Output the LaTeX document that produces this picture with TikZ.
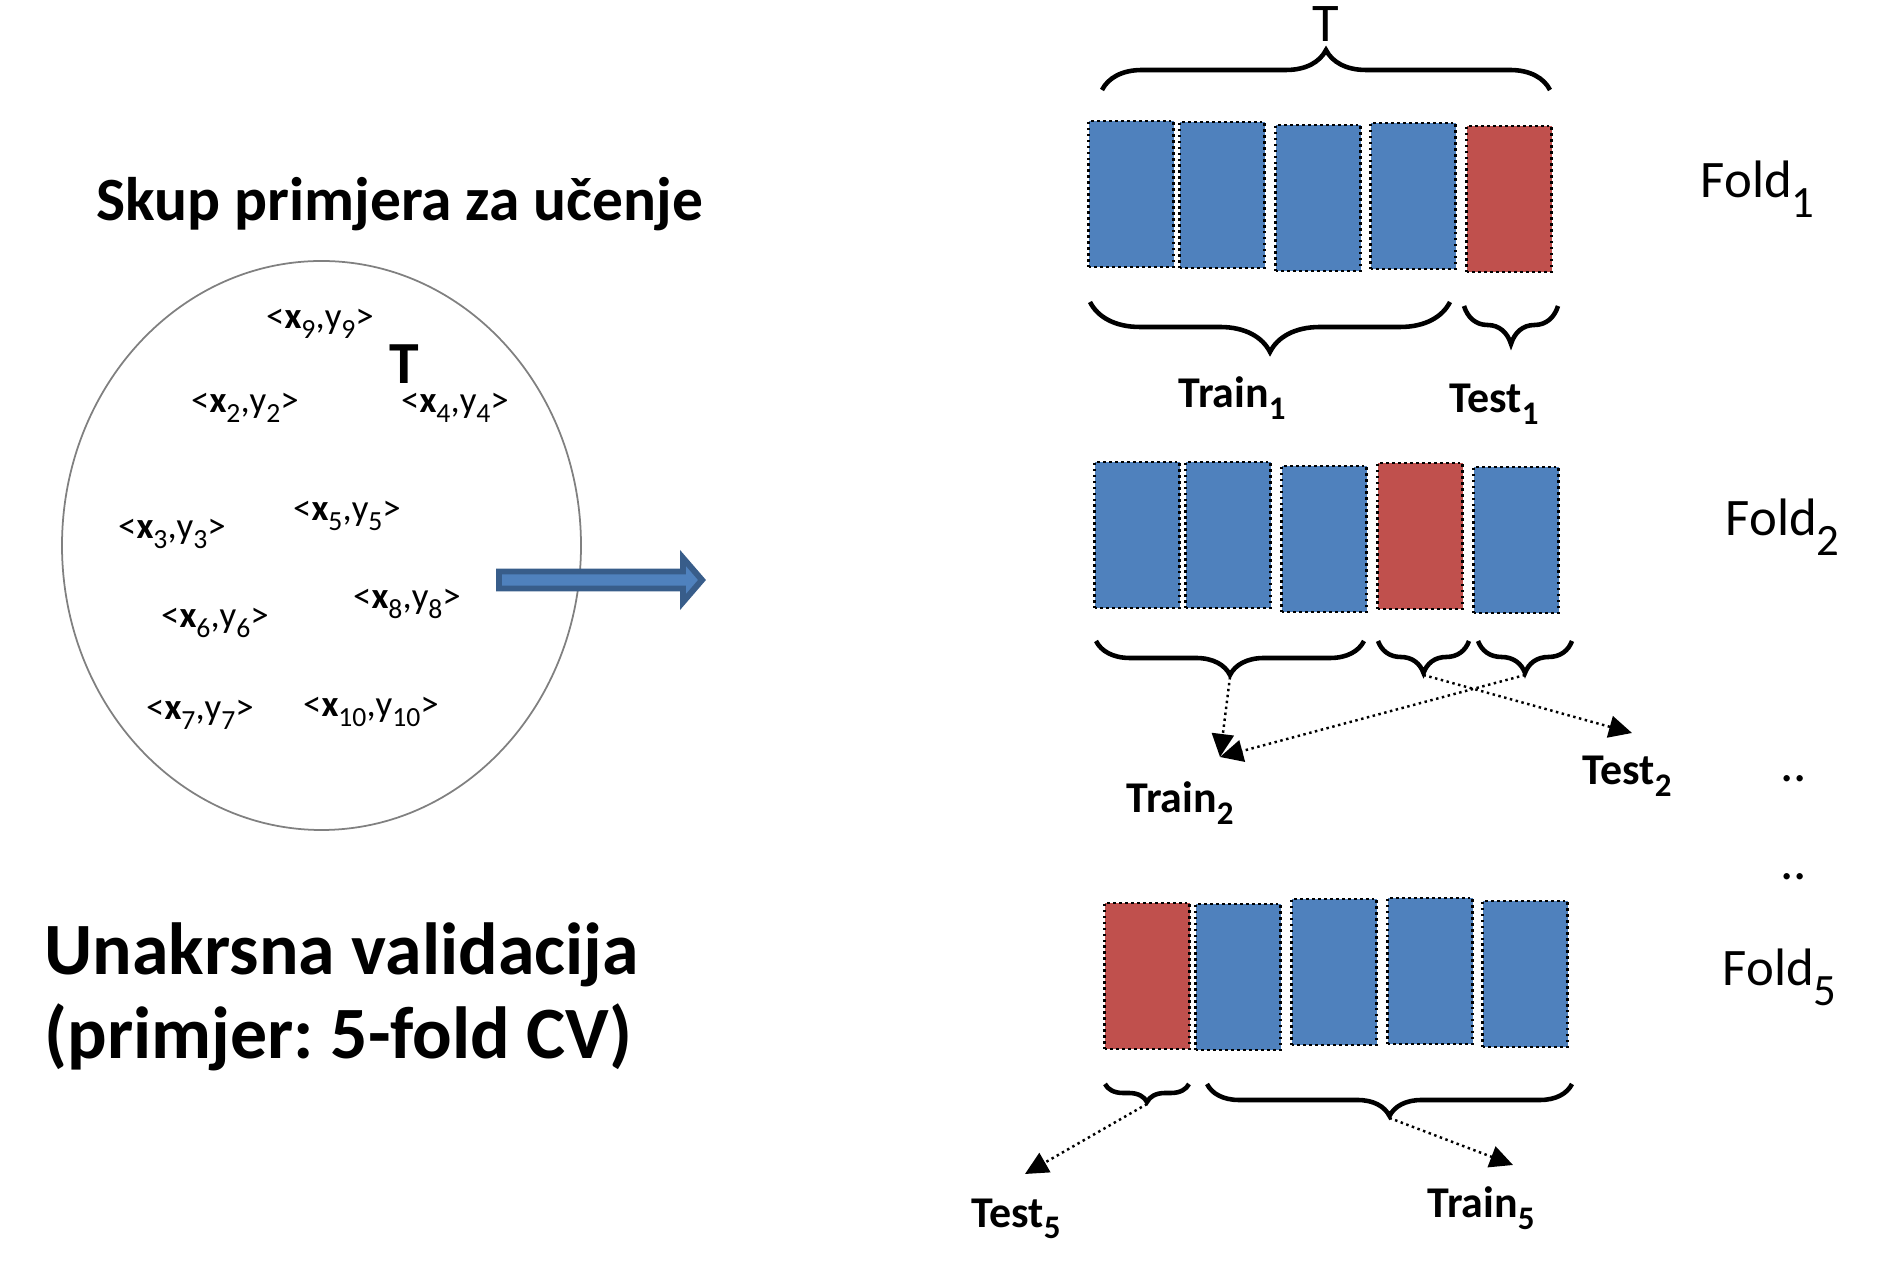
\documentclass[tikz,border=0pt]{standalone}
\usepackage{fontspec}
\setmainfont{Carlito}
\usetikzlibrary{arrows.meta,positioning,calc,decorations.pathreplacing}
\definecolor{blu}{HTML}{4F81BD}
\definecolor{rd}{HTML}{C0504D}
\definecolor{bludark}{HTML}{385D8A}
\frenchspacing
\newcommand{\sbs}[1]{\raisebox{-0.55ex}{\scalebox{0.75}{#1}}}
\newcommand{\sbsf}[1]{\raisebox{-0.8ex}{\scalebox{0.85}{#1}}}
\newcommand{\smp}[1]{<\textbf{x}\sbs{#1},y\sbs{#1}>}

\begin{document}
\begin{tikzpicture}[
  x=1mm,
  y=1mm,
  fbox/.style={draw, densely dotted, line width=0.7pt, minimum width=8.5mm, minimum height=14.6mm, inner sep=0pt},
  brc/.style={decorate, decoration={brace, amplitude=#1}, line width=1.3pt},
  ptr/.style={densely dotted, line width=0.7pt, -{Triangle[length=2.3mm, width=2.2mm]}},
  smp/.style={font=\fontsize{10.5}{12}\selectfont, inner sep=0pt},
  ttl/.style={font=\fontsize{17.5}{21}\selectfont\bfseries, inner sep=0pt},
  tbig/.style={font=\fontsize{21}{24}\selectfont\bfseries, align=left, inner sep=0pt},
  lbl/.style={font=\fontsize{12.5}{14}\selectfont\bfseries, inner sep=0pt},
  fld/.style={font=\fontsize{15}{18}\selectfont, inner sep=0pt},
]
\useasboundingbox (0,0) rectangle (187.9,-126.3);

% Left: training set
\node[ttl] (title) at (40.0,-20.4) {Skup primjera za učenje};
\draw[gray, line width=0.5pt] (32.15,-54.55) ellipse [x radius=25.95mm, y radius=28.45mm];
\node[font=\fontsize{17}{20}\selectfont\bfseries, inner sep=0pt] (tset) at (40.4,-36.4) {T};

\node[smp] (s9) at (32.0,-32.4) {\smp{9}};
\node[smp] (s2) at (24.5,-40.8) {\smp{2}};
\node[smp] (s4) at (45.5,-40.8) {\smp{4}};
\node[smp] (s5) at (34.7,-51.6) {\smp{5}};
\node[smp] (s3) at (17.2,-53.4) {\smp{3}};
\node[smp] (s8) at (40.7,-60.4) {\smp{8}};
\node[smp] (s6) at (21.5,-62.3) {\smp{6}};
\node[smp] (s7) at (20.0,-71.5) {\smp{7}};
\node[smp] (s10) at (37.1,-71.2) {\smp{10}};

\node[tbig, anchor=west] (cv) at (4.4,-99.7) {Unakrsna validacija\\(primjer: 5-fold CV)};

% Big arrow
\draw[bludark, fill=blu, line width=1.7pt] (49.9,-57.15) -- (68.3,-57.15) -- (68.3,-55.8) -- (70.2,-58.0)
  -- (68.3,-60.2) -- (68.3,-58.85) -- (49.9,-58.85) -- cycle;

% Fold 1
\foreach \i/\x/\y/\c in {1/113.1/-19.4/blu, 2/122.2/-19.5/blu, 3/131.8/-19.8/blu, 4/141.3/-19.6/blu, 5/150.9/-19.9/rd}
  \node[fbox, fill=\c] (a\i) at (\x,\y) {};
\node[fld, anchor=west] (fold1) at (170.0,-18.9) {Fold\sbsf{1}};

\draw[brc=4mm] (110.2,-9.0) -- (155.0,-9.0) node[midway, above=4.6mm, font=\fontsize{15.5}{18}\selectfont, inner sep=0pt] (ttop) {T};
\draw[brc=5mm] (145.0,-30.2) -- (109.0,-30.2);
\draw[brc=3.8mm] (155.8,-30.6) -- (146.4,-30.6);
\node[lbl] (train1) at (123.2,-39.8) {Train\sbs{1}};
\node[lbl] (test1) at (149.4,-40.4) {Test\sbs{1}};

% Fold 2
\foreach \i/\x/\y/\c in {1/113.7/-53.5/blu, 2/122.8/-53.5/blu, 3/132.4/-53.9/blu, 4/142.0/-53.6/rd, 5/151.6/-54.0/blu}
  \node[fbox, fill=\c] (b\i) at (\x,\y) {};
\node[fld, anchor=west] (fold2) at (172.5,-52.7) {Fold\sbsf{2}};

\draw[brc=3.4mm] (136.4,-64.1) -- (109.6,-64.1) coordinate[midway, yshift=-3.6mm] (tb1);
\draw[brc=3.2mm] (146.9,-64.1) -- (137.8,-64.1) coordinate[midway, yshift=-3.4mm] (tb2);
\draw[brc=3.2mm] (157.2,-64.1) -- (147.8,-64.1) coordinate[midway, yshift=-3.4mm] (tb3);
\node[lbl] (train2) at (118.0,-80.3) {Train\sbs{2}};
\node[lbl] (test2) at (162.7,-77.6) {Test\sbs{2}};
\coordinate (e2a) at (122.0,-75.7);
\coordinate (e2b) at (163.2,-73.3);
\draw[ptr] (tb1) -- (e2a);
\draw[ptr] (tb3) -- (e2a);
\draw[ptr] (tb2) -- (e2b);

% dots
\node[fld] (dots1) at (179.4,-77.9) {..};
\node[fld] (dots2) at (179.4,-87.7) {..};

% Fold 5
\foreach \i/\x/\y/\c in {1/114.7/-97.6/rd, 2/123.8/-97.7/blu, 3/133.4/-97.2/blu, 4/143.0/-97.1/blu, 5/152.5/-97.4/blu}
  \node[fbox, fill=\c] (c\i) at (\x,\y) {};
\node[fld, anchor=west] (fold5) at (172.2,-97.7) {Fold\sbsf{5}};

\draw[brc=1.8mm] (118.9,-108.4) -- (110.5,-108.4) coordinate[midway, yshift=-2.0mm] (tc1);
\draw[brc=3.2mm] (157.2,-108.4) -- (120.7,-108.4) coordinate[midway, yshift=-3.4mm] (tc2);
\node[lbl] (test5) at (101.6,-121.9) {Test\sbs{5}};
\node[lbl] (train5) at (148.1,-120.8) {Train\sbs{5}};
\coordinate (e5a) at (102.5,-117.4);
\coordinate (e5b) at (151.3,-116.5);
\draw[ptr] (tc1) -- (e5a);
\draw[ptr] (tc2) -- (e5b);

\end{tikzpicture}
\end{document}
